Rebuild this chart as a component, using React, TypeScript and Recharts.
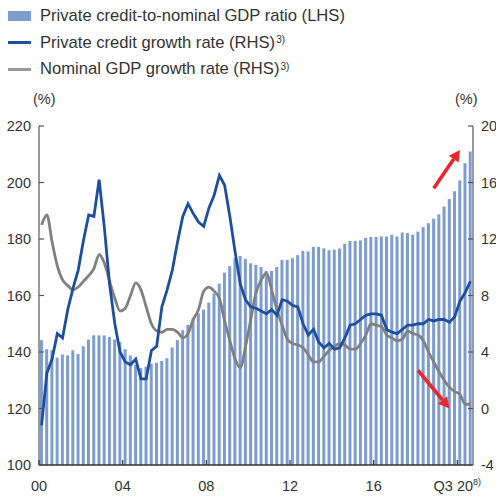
import { ComposedChart, Bar, Line, XAxis, YAxis, ReferenceLine } from "recharts";

// quarters 2000Q1 .. 2020Q3
const quarters: string[] = [];
for (let yr = 2000; yr <= 2020; yr++) {
  for (let q = 1; q <= 4; q++) {
    if (yr === 2020 && q > 3) break;
    quarters.push(`${yr}Q${q}`);
  }
}

// Private credit-to-nominal GDP ratio (LHS, %)
const creditToGdp = [
  144.2, 141.0, 140.6, 138.0, 139.1, 138.8, 140.6, 139.3, 142.0, 144.4,
  145.9, 145.9, 145.9, 145.3, 144.4, 143.5, 141.0, 138.8, 135.5, 134.3,
  134.8, 135.8, 136.2, 136.8, 137.8, 141.6, 144.2, 147.7, 149.6, 152.0,
  153.7, 155.0, 157.5, 160.7, 164.2, 168.1, 170.4, 173.2, 174.0, 173.0,
  171.4, 170.8, 170.1, 168.7, 168.7, 170.1, 172.6, 172.6, 173.2, 174.3,
  175.8, 175.6, 177.2, 177.2, 176.7, 176.0, 176.2, 176.6, 178.3, 179.3,
  179.3, 179.5, 180.4, 180.7, 180.7, 180.9, 180.9, 181.5, 180.9, 182.3,
  182.1, 181.5, 182.6, 184.2, 185.6, 187.2, 188.7, 191.5, 194.2, 196.9,
  200.7, 206.8, 211.0,
];

// Private credit growth rate (RHS, %)
const creditGrowth = [
  -1.2, 2.5, 3.5, 5.3, 5.0, 7.0, 8.5, 9.8, 11.9, 13.7,
  13.6, 16.2, 12.8, 8.8, 6.0, 4.0, 3.3, 3.1, 3.5, 2.1,
  2.1, 4.1, 4.4, 7.2, 8.4, 9.8, 11.8, 13.6, 14.5, 13.8,
  13.2, 12.9, 14.2, 15.1, 16.5, 15.8, 13.6, 11.1, 8.8, 7.7,
  7.2, 7.1, 6.9, 6.7, 7.0, 6.6, 7.7, 7.6, 7.3, 7.2,
  6.0, 5.2, 5.6, 4.7, 4.3, 4.6, 4.2, 4.3, 5.0, 5.9,
  6.0, 6.3, 6.6, 6.7, 6.7, 6.6, 5.6, 5.4, 5.3, 5.6,
  5.9, 5.9, 6.0, 6.0, 6.3, 6.2, 6.3, 6.3, 6.1, 6.5,
  7.6, 8.2, 9.0,
];

// Nominal GDP growth rate (RHS, %)
const gdpGrowth = [
  13.0, 13.7, 11.8, 10.1, 9.1, 8.7, 8.4, 8.6, 9.0, 9.4,
  9.9, 10.9, 10.3, 9.0, 7.8, 6.9, 7.1, 8.0, 8.9, 8.4,
  7.2, 6.0, 5.5, 5.4, 5.6, 5.6, 5.4, 5.0, 5.3, 6.3,
  7.0, 8.3, 8.6, 8.3, 7.8, 6.2, 4.8, 3.5, 2.9, 4.4,
  6.3, 8.2, 9.1, 9.6, 8.4, 7.0, 5.9, 4.9, 4.6, 4.5,
  4.3, 3.8, 3.3, 3.3, 3.7, 4.1, 4.4, 4.6, 4.5, 4.2,
  4.2, 4.6, 5.2, 6.0, 5.9, 5.8, 5.2, 5.0, 4.8, 4.9,
  5.5, 5.3, 5.2, 4.8, 4.0, 3.3, 2.6, 2.0, 1.5, 1.2,
  1.0, 0.3, 0.3,
];

const xTicks = ["2000Q1", "2004Q1", "2008Q1", "2012Q1", "2016Q1", "2020Q1"];
const xTickLabels: Record<string, string> = {
  "2000Q1": "00",
  "2004Q1": "04",
  "2008Q1": "08",
  "2012Q1": "12",
  "2016Q1": "16",
  "2020Q1": "Q3 20",
};
const leftTicks = [100, 120, 140, 160, 180, 200, 220];
const rightTicks = [-4, 0, 4, 8, 12, 16, 20];

const data = quarters.map((q, i) => ({
  q,
  ratio: creditToGdp[i],
  credit: creditGrowth[i],
  gdp: gdpGrowth[i],
}));

const FONT = "'Liberation Sans', Arial, Helvetica, sans-serif";
const TEXT = "#333";
const BAR = "#7d9dd2";
const BLUE = "#1f4f9c";
const GREY = "#808080";
const RED = "#e8262b";
const HALF_BAND = 2.6;

const XTick = ({ x, y, payload }: any) => {
  const label = xTickLabels[payload.value];
  const px = x - HALF_BAND;
  return (
    <g>
      <line x1={px} x2={px} y1={y} y2={y - 5} stroke="#333" strokeWidth={1.2} />
      <text x={px} y={y + 26} textAnchor="middle" fontSize={14.5} fill={TEXT} fontFamily={FONT}>
        {label}
        {payload.value === "2020Q1" && (
          <tspan fontSize={9} dy={-6}>8)</tspan>
        )}
      </text>
    </g>
  );
};

const LeftTick = ({ x, y, payload }: any) => (
  <g>
    <line x1={x + 8} x2={x + 13} y1={y} y2={y} stroke="#555" strokeWidth={1.2} />
    <text x={x} y={y} dy={5} textAnchor="end" fontSize={14.5} fill={TEXT} fontFamily={FONT}>
      {payload.value}
    </text>
  </g>
);

const RightTick = ({ x, y, payload }: any) => (
  <g>
    <line x1={x - 8} x2={x - 13} y1={y} y2={y} stroke="#555" strokeWidth={1.2} />
    <text x={x} y={y} dy={5} textAnchor="start" fontSize={14.5} fill={TEXT} fontFamily={FONT}>
      {payload.value}
    </text>
  </g>
);

const Arrow = (props: any) => {
  const { x1, y1, x2, y2 } = props;
  const ang = Math.atan2(y2 - y1, x2 - x1);
  const head = 11;
  const w = 6;
  const bx = x2 - head * Math.cos(ang);
  const by = y2 - head * Math.sin(ang);
  const px = -Math.sin(ang) * w;
  const py = Math.cos(ang) * w;
  return (
    <g>
      <line x1={x1} y1={y1} x2={bx} y2={by} stroke={RED} strokeWidth={3.6} />
      <polygon points={`${x2},${y2} ${bx + px},${by + py} ${bx - px},${by - py}`} fill={RED} />
    </g>
  );
};

const LegendRow = ({ swatch, label }: { swatch: React.ReactNode; label: string }) => (
  <div style={{ display: "flex", alignItems: "center", height: 26.5 }}>
    <div style={{ width: 32, display: "flex", alignItems: "center" }}>{swatch}</div>
    <span style={{ fontSize: 16.6, color: TEXT, whiteSpace: "nowrap" }}>{label}</span>
    {label.endsWith("(RHS)") && (
      <sup style={{ fontSize: 10, color: TEXT, marginLeft: 1, position: "relative", top: -3 }}>3)</sup>
    )}
  </div>
);

export default function App() {
  return (
    <div style={{ position: "absolute", left: 0, top: 0, width: 496, height: 496, background: "#fff", fontFamily: FONT }}>
      <div style={{ position: "absolute", left: 8, top: 3 }}>
        <LegendRow
          swatch={<div style={{ width: 23, height: 10, background: BAR }} />}
          label="Private credit-to-nominal GDP ratio (LHS)"
        />
        <LegendRow
          swatch={<div style={{ width: 23, height: 3, background: BLUE }} />}
          label="Private credit growth rate (RHS)"
        />
        <LegendRow
          swatch={<div style={{ width: 23, height: 3, background: "#999" }} />}
          label="Nominal GDP growth rate (RHS)"
        />
      </div>
      <div style={{ position: "absolute", left: 33, top: 91, fontSize: 14.5, color: TEXT }}>(%)</div>
      <div style={{ position: "absolute", left: 455, top: 91, fontSize: 14.5, color: TEXT }}>(%)</div>

      <ComposedChart
        width={496}
        height={496}
        data={data}
        margin={{ top: 126, right: 0, bottom: 0, left: 0 }}
        barCategoryGap="18%"
      >
        <XAxis
          dataKey="q"
          ticks={xTicks}
          interval={0}
          height={31}
          tickSize={0}
          tickMargin={0}
          tick={<XTick />}
          axisLine={{ stroke: "#333", strokeWidth: 1.5 }}
          tickLine={false}
        />
        <YAxis
          yAxisId="left"
          orientation="left"
          width={39}
          domain={[100, 220]}
          ticks={leftTicks}
          allowDataOverflow
          tickSize={0}
          tickMargin={8}
          tick={<LeftTick />}
          tickLine={false}
          axisLine={{ stroke: "#666", strokeWidth: 1.3 }}
        />
        <YAxis
          yAxisId="right"
          orientation="right"
          width={23}
          domain={[-4, 20]}
          ticks={rightTicks}
          allowDataOverflow
          tickSize={0}
          tickMargin={8}
          tick={<RightTick />}
          tickLine={false}
          axisLine={{ stroke: "#666", strokeWidth: 1.3 }}
        />
        <Bar yAxisId="left" dataKey="ratio" fill={BAR} isAnimationActive={false} />
        <Line
          yAxisId="right"
          type="monotone"
          dataKey="gdp"
          stroke={GREY}
          strokeWidth={2.8}
          dot={false}
          isAnimationActive={false}
        />
        <Line
          yAxisId="right"
          type="linear"
          dataKey="credit"
          stroke={BLUE}
          strokeWidth={2.8}
          dot={false}
          isAnimationActive={false}
        />
        <ReferenceLine
          yAxisId="right"
          segment={[{ x: "2018Q4", y: 15.6 }, { x: "2020Q1", y: 18.3 }]}
          shape={<Arrow />}
        />
        <ReferenceLine
          yAxisId="right"
          segment={[{ x: "2018Q1", y: 2.7 }, { x: "2019Q3", y: 0.0 }]}
          shape={<Arrow />}
        />
      </ComposedChart>
    </div>
  );
}
